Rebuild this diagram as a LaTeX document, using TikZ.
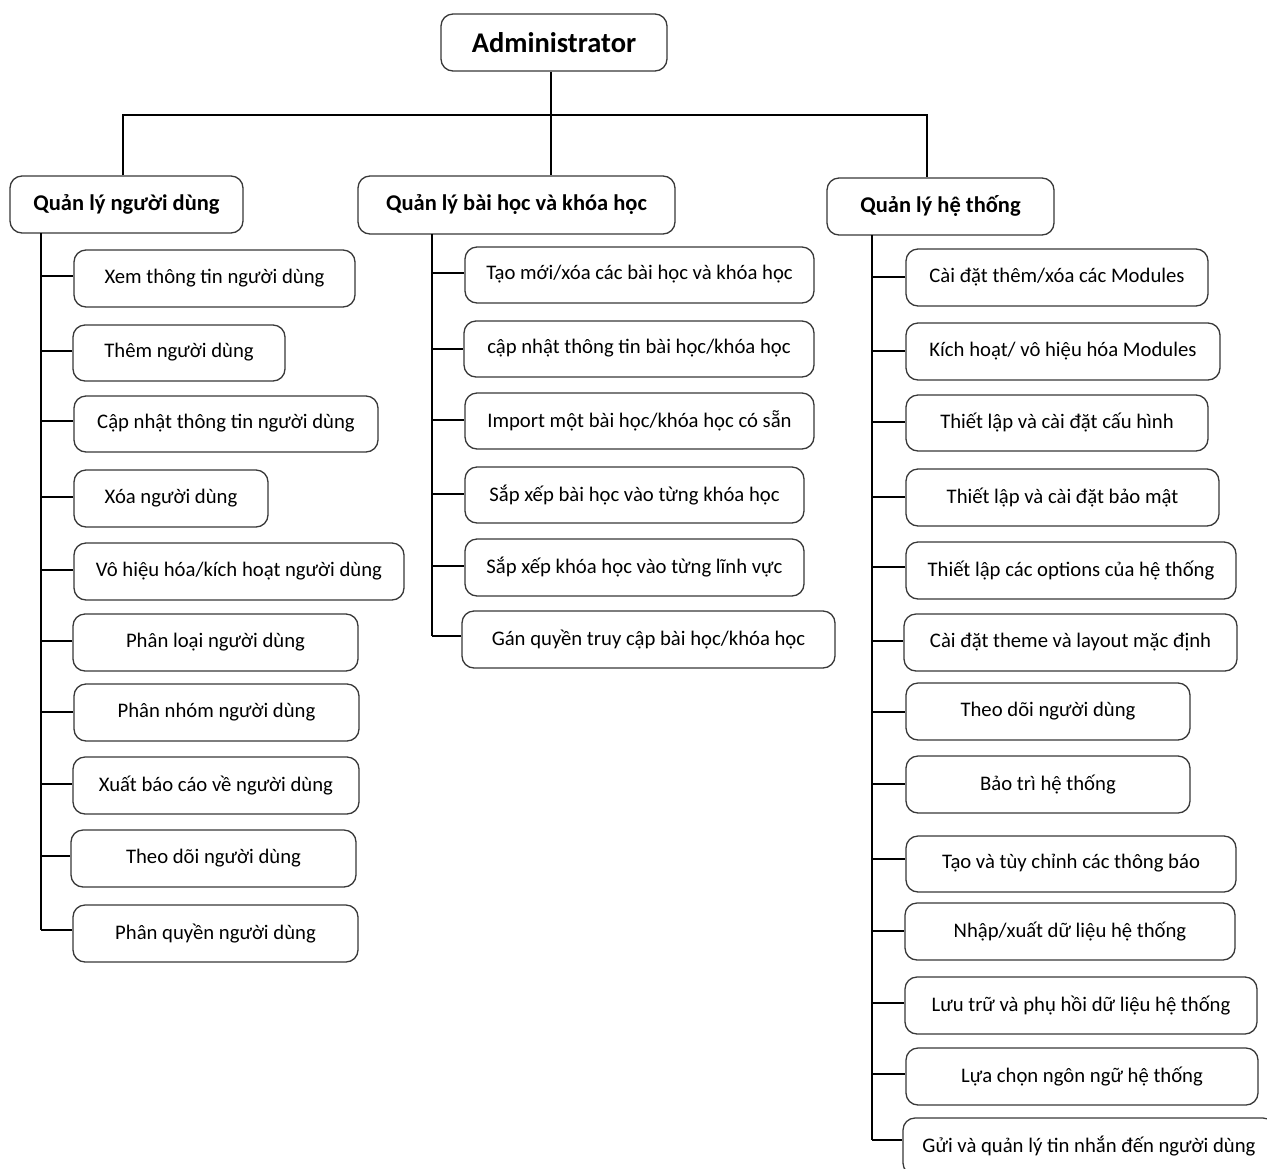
\documentclass[tikz,border=0pt]{standalone}
\usepackage{fontspec}
\setmainfont{Carlito}
\begin{document}
\begin{tikzpicture}[x=1pt,y=-1pt,
  box/.style={draw=black!78, line width=1.3pt, rounded corners=12pt,
    align=center, inner sep=0pt, text depth=0.45em, font=\fontsize{20.7}{24}\selectfont},
  head/.style={box, text depth=0.4em, font=\fontsize{22.5}{26}\selectfont\bfseries},
  root/.style={box, text depth=0.05em, font=\fontsize{28.5}{32}\selectfont\bfseries},
  link/.style={draw=black, line width=2.5pt}]
\useasboundingbox (0,0) rectangle (1267,1168);
\clip (0,0) rectangle (1267,1168);

% root and the three main groups
\node[root, minimum width=226, minimum height=57] (admin) at (554,42.5) {Administrator};
\node[head, minimum width=233, minimum height=57] (lh) at (126.5,204.5) {Quản lý người dùng};
\node[head, minimum width=317, minimum height=58] (mh) at (516.5,205) {Quản lý bài học và khóa học};
\node[head, minimum width=227, minimum height=57] (rh) at (940.5,206.5) {Quản lý hệ thống};

% junction points of the top bar
\coordinate (j0) at (551,115);
\coordinate (jL) at (123,115);
\coordinate (jR) at (927,115);
\draw[link] (j0 |- admin.south) -- (j0 |- mh.north);
\draw[link] (jL |- lh.north) -- (jL) -- (jR) -- (jR |- rh.north);

% user management
\node[box, minimum width=281, minimum height=57] (u1) at (214.5,278.5) {Xem thông tin người dùng};
\node[box, minimum width=212, minimum height=56] (u2) at (179,353) {Thêm người dùng};
\node[box, minimum width=304, minimum height=56] (u3) at (226,424) {Cập nhật thông tin người dùng};
\node[box, minimum width=194, minimum height=57] (u4) at (171,498.5) {Xóa người dùng};
\node[box, minimum width=330, minimum height=57] (u5) at (239,571.5) {Vô hiệu hóa/kích hoạt người dùng};
\node[box, minimum width=285, minimum height=57] (u6) at (215.5,642.5) {Phân loại người dùng};
\node[box, minimum width=285, minimum height=57] (u7) at (216.5,712.5) {Phân nhóm người dùng};
\node[box, minimum width=286, minimum height=57] (u8) at (216,785.5) {Xuất báo cáo về người dùng};
\node[box, minimum width=285, minimum height=57] (u9) at (213.5,858.5) {Theo dõi người dùng};
\node[box, minimum width=285, minimum height=57] (u10) at (215.5,933.5) {Phân quyền người dùng};

\coordinate (lt) at (41,233);
\coordinate (lb) at (41,930);
\draw[link] (lt) -- (lb);
\foreach \n/\y in {u1/276,u2/351,u3/421,u4/497,u5/570,u6/641,u7/712,u8/784,u9/856,u10/930}
  \draw[link] (lt |- 0,\y) -- (\n.west |- 0,\y);

% lessons and courses
\node[box, minimum width=349, minimum height=56] (m1) at (639.5,275) {Tạo mới/xóa các bài học và khóa học};
\node[box, minimum width=350, minimum height=56] (m2) at (639,349) {cập nhật thông tin bài học/khóa học};
\node[box, minimum width=349, minimum height=56] (m3) at (639.5,421) {Import một bài học/khóa học có sẵn};
\node[box, minimum width=339, minimum height=56] (m4) at (634.5,495) {Sắp xếp bài học vào từng khóa học};
\node[box, minimum width=339, minimum height=57] (m5) at (634.5,567.5) {Sắp xếp khóa học vào từng lĩnh vực};
\node[box, minimum width=373, minimum height=57] (m6) at (648.5,639.5) {Gán quyền truy cập bài học/khóa học};

\coordinate (mt) at (432,234);
\coordinate (mb) at (432,636);
\draw[link] (mt) -- (mb);
\foreach \n/\y in {m1/273,m2/349,m3/420,m4/494,m5/566,m6/636}
  \draw[link] (mt |- 0,\y) -- (\n.west |- 0,\y);

% system management
\node[box, minimum width=302, minimum height=57] (s1) at (1057,277.5) {Cài đặt thêm/xóa các Modules};
\node[box, minimum width=314, minimum height=57] (s2) at (1063,351.5) {Kích hoạt/ vô hiệu hóa Modules};
\node[box, minimum width=302, minimum height=56] (s3) at (1057,423) {Thiết lập và cài đặt cấu hình};
\node[box, minimum width=313, minimum height=57] (s4) at (1062.5,497.5) {Thiết lập và cài đặt bảo mật};
\node[box, minimum width=330, minimum height=57] (s5) at (1071,570.5) {Thiết lập các options của hệ thống};
\node[box, minimum width=333, minimum height=57] (s6) at (1070.5,642.5) {Cài đặt theme và layout mặc định};
\node[box, minimum width=284, minimum height=57] (s7) at (1048,711.5) {Theo dõi người dùng};
\node[box, minimum width=284, minimum height=57] (s8) at (1048,784.5) {Bảo trì hệ thống};
\node[box, minimum width=330, minimum height=56] (s9) at (1071,864) {Tạo và tùy chỉnh các thông báo};
\node[box, minimum width=330, minimum height=57] (s10) at (1070,931.5) {Nhập/xuất dữ liệu hệ thống};
\node[box, minimum width=352, minimum height=57] (s11) at (1081,1005.5) {Lưu trữ và phụ hồi dữ liệu hệ thống};
\node[box, minimum width=352, minimum height=57] (s12) at (1082,1076.5) {Lựa chọn ngôn ngữ hệ thống};
\node[box, minimum width=372, minimum height=57] (s13) at (1089,1146.5) {Gửi và quản lý tin nhắn đến người dùng};

\coordinate (rt) at (872,235);
\coordinate (rb) at (872,1140);
\draw[link] (rt) -- (rb);
\foreach \n/\y in {s1/277,s2/351,s3/422,s4/497,s5/567,s6/641,s7/712,s8/784,s9/859,s10/931,s11/1003,s12/1074,s13/1140}
  \draw[link] (rt |- 0,\y) -- (\n.west |- 0,\y);
\end{tikzpicture}
\end{document}
